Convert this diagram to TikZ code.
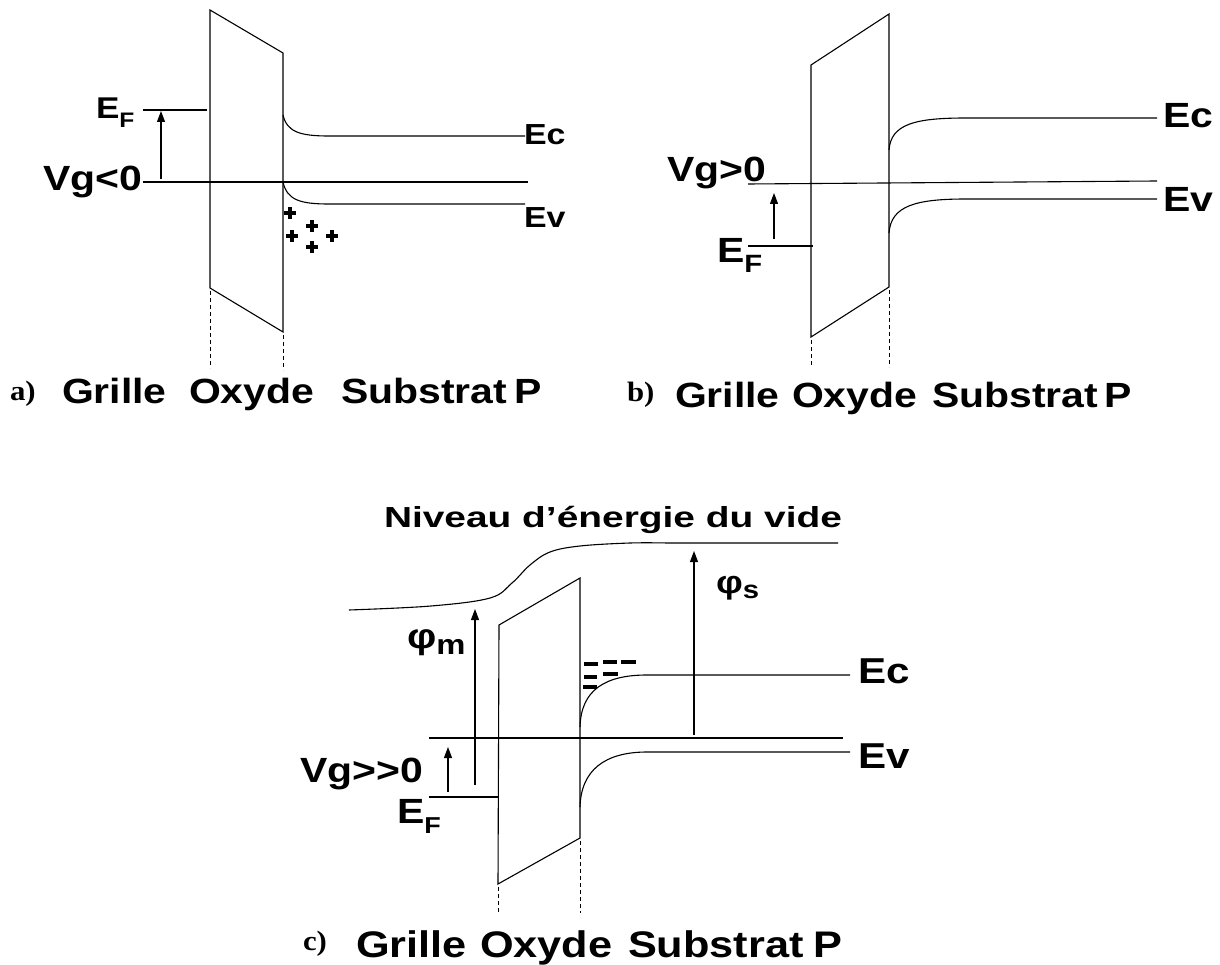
\documentclass[tikz,border=0pt]{standalone}
\usepackage{fontspec}
\usepackage{graphicx}
\setmainfont{Liberation Sans}
\newfontfamily\serifb{Liberation Serif}
\usetikzlibrary{arrows.meta}
\newcommand{\lbl}[2]{{\fontsize{#1}{#1}\selectfont\bfseries\scalebox{1.17}[1]{#2}}}
\newcommand{\sublbl}[5]{{\fontsize{#1}{#1}\selectfont\bfseries\scalebox{1.17}[1]{#2\raisebox{-#4pt}{\fontsize{#3}{#3}\selectfont #5}}}}
\newcommand{\panlbl}[1]{{\serifb\fontsize{28}{28}\selectfont\bfseries\scalebox{1.1}[1]{#1}}}
\begin{document}
\begin{tikzpicture}[x=1pt,y=-1pt,line width=1.1pt,
  every node/.style={inner sep=0pt,outer sep=0pt,anchor=base west},
  guide/.style={line width=1pt,dash pattern=on 4pt off 3pt},
  uparrow/.style={-{Triangle[length=11pt,width=8pt]}},
  trap/.style={line width=4pt},
  plusmark/.style={line width=3.2pt}]
\useasboundingbox (0,0) rectangle (1220,965);

% ---------------- panel a ----------------
\draw (210,10) -- (283,53) -- (283,332) -- (210,288) -- cycle;
\draw[guide] (210,291) -- (210,368);
\draw[guide] (283,335) -- (283,370);
\coordinate (aEFl) at (143,110); \coordinate (aEFr) at (207,110);
\draw (aEFl) -- (aEFr);
\coordinate (aArB) at (161,179); \coordinate (aArT) at (161,111);
\draw[uparrow] (aArB) -- (aArT);
\coordinate (aVgl) at (143,182); \coordinate (aVgr) at (528,182);
\draw (aVgl) -- (aVgr);
\draw (283,115) .. controls (287,132) and (300,136) .. (329,136) -- (525,136);
\draw (283,182) .. controls (287,200) and (300,204) .. (329,204) -- (525,204);
\foreach \px/\py in {290/213, 312/226, 292/236, 332/236, 312/247}
  \draw[plusmark] (\px-6,\py) -- (\px+6,\py) (\px,\py-6) -- (\px,\py+6);
\node (aEF) at (96,119) {\sublbl{30}{E}{21}{9}{F}};
\node (aVg) at (43,191) {\lbl{35}{Vg<0}};
\node (aEc) at (524,145) {\lbl{29}{Ec}};
\node (aEv) at (524,228) {\lbl{29}{Ev}};
\node (aLab) at (10,400) {\panlbl{a)}};
\node (aG) at (62,403) {\lbl{35}{Grille}};
\node (aO) at (189,403) {\lbl{35}{Oxyde}};
\node (aS) at (341,403) {\lbl{35}{Substrat}};
\node (aP) at (514,403) {\lbl{35}{P}};

% ---------------- panel b ----------------
\draw (811,65) -- (889,14) -- (889,287) -- (811,337) -- cycle;
\draw[guide] (811,340) -- (811,367);
\draw[guide] (889,290) -- (889,367);
\coordinate (bEFl) at (748,246); \coordinate (bEFr) at (813,246);
\draw (bEFl) -- (bEFr);
\coordinate (bArB) at (774,239); \coordinate (bArT) at (774,193);
\draw[uparrow] (bArB) -- (bArT);
\coordinate (bVgl) at (748,184); \coordinate (bVgr) at (1157,181);
\draw (bVgl) -- (bVgr);
\draw (889,150) .. controls (891,124) and (915,118) .. (966,118) -- (1157,118);
\draw (889,233) .. controls (891,206) and (915,199) .. (966,199) -- (1157,199);
\node (bEF) at (717,263) {\sublbl{35}{E}{25}{10}{F}};
\node (bVg) at (667,182) {\lbl{35}{Vg>0}};
\node (bEc) at (1163,128) {\lbl{35}{Ec}};
\node (bEv) at (1163,212) {\lbl{35}{Ev}};
\node (bLab) at (627,401) {\panlbl{b)}};
\node (bG) at (675,407) {\lbl{35}{Grille}};
\node (bO) at (792,407) {\lbl{35}{Oxyde}};
\node (bS) at (932,407) {\lbl{35}{Substrat}};
\node (bP) at (1104,407) {\lbl{35}{P}};

% ---------------- panel c ----------------
\draw plot[smooth,tension=0.6] coordinates {(349,610) (431,606) (490,598) (512,583) (530,565) (550,552) (580,546) (630,543) (668,543)} -- (838,543);
\draw (499,625) -- (580,578) -- (580,838) -- (498,884) -- cycle;
\draw[guide] (498,887) -- (498,913);
\draw[guide] (580,841) -- (580,913);
\coordinate (cPmB) at (475,785); \coordinate (cPmT) at (475,609);
\draw[uparrow] (cPmB) -- (cPmT);
\coordinate (cPsB) at (694,735); \coordinate (cPsT) at (694,551);
\draw[uparrow] (cPsB) -- (cPsT);
\coordinate (cEFl) at (429,797); \coordinate (cEFr) at (498,797);
\draw (cEFl) -- (cEFr);
\coordinate (cArB) at (448,792); \coordinate (cArT) at (448,747);
\draw[uparrow] (cArB) -- (cArT);
\coordinate (cVgl) at (429,738); \coordinate (cVgr) at (843,738);
\draw (cVgl) -- (cVgr);
\draw (580,727) .. controls (581,690) and (605,675) .. (647,675) -- (850,675);
\draw (580,807) .. controls (581,770) and (605,752) .. (647,752) -- (850,752);
\draw[trap] (584,664) -- (598,664);
\draw[trap] (603,662) -- (617,662);
\draw[trap] (621,662) -- (636,662);
\draw[trap] (584,677) -- (597,677);
\draw[trap] (603,674) -- (618,674);
\draw[trap] (583,687) -- (597,687);
\node (cNiv) at (384,527) {\fontsize{29}{29}\selectfont\bfseries\resizebox{458pt}{\height}{Niveau d’énergie du vide}};
\node (cPm) at (407,648) {\sublbl{35}{φ}{28}{6}{m}};
\node (cPs) at (716,593) {\sublbl{32}{φ}{25}{5}{s}};
\node (cEF) at (397,823) {\sublbl{35}{E}{23}{10}{F}};
\node (cVg) at (300,782) {\lbl{35}{Vg>{}>0}};
\node (cEc) at (858,683) {\lbl{36}{Ec}};
\node (cEv) at (858,768) {\lbl{36}{Ev}};
\node (cLab) at (303,950) {\panlbl{c)}};
\node (cG) at (356,957) {\lbl{37}{Grille}};
\node (cO) at (480,957) {\lbl{37}{Oxyde}};
\node (cS) at (628,957) {\lbl{37}{Substrat}};
\node (cP) at (813,957) {\lbl{37}{P}};
\end{tikzpicture}
\end{document}
